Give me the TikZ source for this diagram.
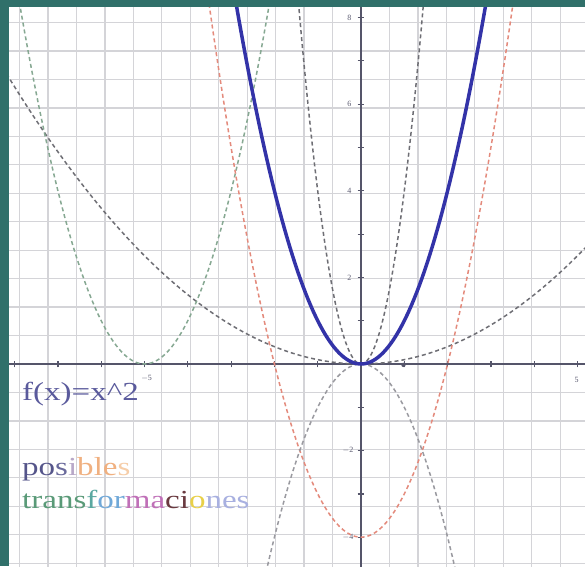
\documentclass[tikz,border=0pt]{standalone}
\usepackage{fontspec}
\setmainfont{Liberation Serif}
\begin{document}
\begin{tikzpicture}[x=1pt,y=1pt]
\definecolor{tealbord}{HTML}{30706A}
\definecolor{gridc}{HTML}{D4D4D8}
\definecolor{axisc}{HTML}{55556A}
\definecolor{bluec}{HTML}{3333A8}
\definecolor{grayd}{HTML}{6E6E74}
\definecolor{greend}{HTML}{86A892}
\definecolor{redd}{HTML}{E48A7C}
\definecolor{lgrayd}{HTML}{9A9AA0}
\definecolor{labc}{HTML}{5A5A70}
\definecolor{fxc}{HTML}{5A5A9C}
\tikzset{
  gridline/.style={draw=gridc, line width=1.3pt},
  axisline/.style={draw=axisc, line width=2pt},
  tickline/.style={draw=axisc, line width=1.2pt},
  dashcurve/.style={line width=1.5pt, dash pattern=on 4pt off 3pt},
  maincurve/.style={draw=bluec, line width=3.5pt},
  ticklab/.style={font=\fontsize{8}{9}\selectfont, text=labc, inner sep=0pt},
  bigtext/.style={anchor=base west, inner sep=0pt}
}
\useasboundingbox (0,0) rectangle (585,566);
\fill[white] (0,0) rectangle (585,566);
\begin{scope}
\clip (9,0) rectangle (585,559);
\begin{scope}[shift={(361pt,202pt)}, x=43.3pt, y=43.3pt]
  \draw[gridline] (-9,-5) grid (6,9);
  \draw[axisline] (-9,0) -- (6,0);
  \draw[axisline] (0,-5) -- (0,9);
  \foreach \i in {-8,...,5} \draw[tickline] (\i,-0.08) -- (\i,0.08);
  \foreach \j in {-4,...,8} \draw[tickline] (-0.08,\j) -- (0.08,\j);
  % tick labels
  \node[ticklab] (ly8) at (-0.27,8) {8};
  \node[ticklab] (ly6) at (-0.27,6) {6};
  \node[ticklab] (ly4) at (-0.27,4) {4};
  \node[ticklab] (ly2) at (-0.27,2) {2};
  \node[ticklab] (lym2) at (-0.3,-2) {$-$2};
  \node[ticklab] (lym4) at (-0.3,-4) {$-$4};
  \node[ticklab] (lxm5) at (-4.95,-0.33) {$-$5};
  \node[ticklab] (lx5) at (4.98,-0.37) {5};
  \fill[axisc] (0.98,-0.02) circle (2.2pt);
  % dashed transformations
  \draw[dashcurve, draw=grayd] plot[domain=-8.6:5.6, samples=80] (\x,{0.1*\x*\x});
  \draw[dashcurve, draw=greend] plot[domain=-8:-1.9, samples=80] (\x,{(\x+5)*(\x+5)});
  \draw[dashcurve, draw=redd] plot[domain=-3.6:3.6, samples=80] (\x,{\x*\x-4});
  \draw[dashcurve, draw=lgrayd] plot[domain=-2.3:2.3, samples=80] (\x,{-\x*\x});
  \draw[dashcurve, draw=grayd] plot[domain=-1.5:1.5, samples=80] (\x,{4*\x*\x});
  % main curve
  \draw[maincurve] plot[domain=-2.95:2.95, samples=100] (\x,{\x*\x});
\end{scope}
\end{scope}
\fill[tealbord] (0,0) rectangle (9,566);
\fill[tealbord] (0,559) rectangle (585,566);
% texts
\node[bigtext] (fx) at (22,166) {\scalebox{1.27}[1]{\fontsize{26}{30}\selectfont\color{fxc}f(x)=x\textasciicircum 2}};
\node[bigtext] (pos) at (22,91) {\scalebox{1.27}[1]{\fontsize{26}{30}\selectfont
  \textcolor[HTML]{55558A}{po}\textcolor[HTML]{6A6A9C}{s}\textcolor[HTML]{B8A8C8}{i}\textcolor[HTML]{F0B080}{ble}\textcolor[HTML]{F6CDA8}{s}}};
\node[bigtext] (trans) at (22,58) {\scalebox{1.27}[1]{\fontsize{26}{30}\selectfont
  \textcolor[HTML]{5A9A78}{trans}\textcolor[HTML]{5AA8A0}{f}\textcolor[HTML]{70A8D8}{or}\textcolor[HTML]{C070B8}{ma}\textcolor[HTML]{6A3A40}{ci}\textcolor[HTML]{E8D048}{o}\textcolor[HTML]{A8B0E0}{nes}}};
\end{tikzpicture}
\end{document}
